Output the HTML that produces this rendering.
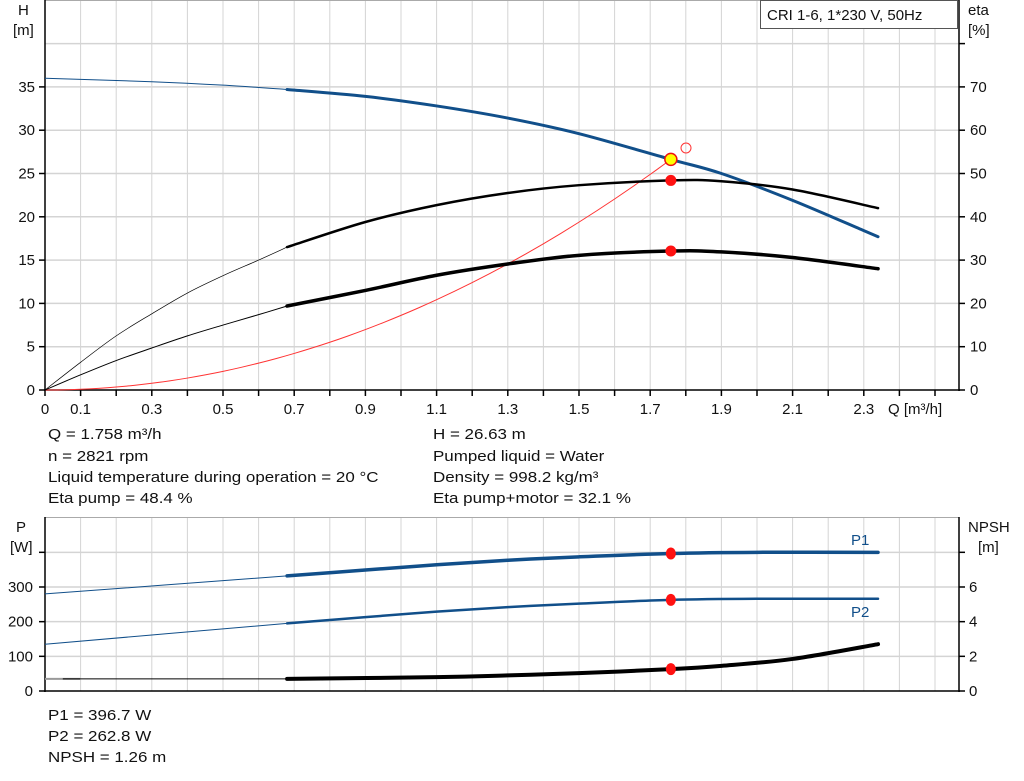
<!DOCTYPE html>
<html><head><meta charset="utf-8"><style>
body{margin:0;background:#fff;width:1024px;height:781px;overflow:hidden}
svg{display:block}
text{font-family:"Liberation Sans",sans-serif;font-size:15px;fill:#111}
</style></head><body>
<svg id="s" width="1024" height="781" xmlns="http://www.w3.org/2000/svg"></svg>
<script>
const s=document.getElementById('s');
let h='';
const X=q=>45+q*356.0;
const YH=v=>390-v*8.66, YE=v=>390-v*4.33, YP=v=>691-v*0.3467, YN=v=>691-v*17.335;
for(let i=1;i<=25;i++){const x=X(i/10);h+=`<line x1="${x}" y1="0" x2="${x}" y2="390" stroke="#d4d4d4"/>`;h+=`<line x1="${x}" y1="517" x2="${x}" y2="691" stroke="#d4d4d4"/>`;}
for(let v=5;v<=40;v+=5){h+=`<line x1="45" y1="${YH(v)}" x2="959" y2="${YH(v)}" stroke="#d4d4d4" stroke-width="1.5"/>`;}
for(let v=100;v<=400;v+=100){h+=`<line x1="45" y1="${YP(v)}" x2="959" y2="${YP(v)}" stroke="#d4d4d4" stroke-width="1.5"/>`;}
h+=`<line x1="45" y1="0.5" x2="959" y2="0.5" stroke="#aaa"/>`;
h+=`<line x1="45" y1="517.5" x2="959" y2="517.5" stroke="#aaa"/>`;
h+=`<line x1="45" y1="0" x2="45" y2="391" stroke="#000" stroke-width="1.5"/><line x1="959" y1="0" x2="959" y2="391" stroke="#000" stroke-width="1.5"/><line x1="44" y1="390" x2="960" y2="390" stroke="#000" stroke-width="1.5"/>`;
h+=`<line x1="45" y1="517" x2="45" y2="692" stroke="#000" stroke-width="1.5"/><line x1="959" y1="517" x2="959" y2="692" stroke="#000" stroke-width="1.5"/><line x1="44" y1="691" x2="960" y2="691" stroke="#000" stroke-width="1.5"/>`;
for(let i=0;i<=25;i++){const x=X(i/10);h+=`<line x1="${x}" y1="390" x2="${x}" y2="396" stroke="#000" stroke-width="1.5"/>`;}
for(let v=0;v<=35;v+=5){const y=YH(v);h+=`<line x1="39" y1="${y}" x2="45" y2="${y}" stroke="#000" stroke-width="1.5"/><text x="35" y="${y+5}" text-anchor="end" font-size="16">${v}</text>`;}
for(let v=0;v<=80;v+=10){const y=YE(v);h+=`<line x1="959" y1="${y}" x2="965" y2="${y}" stroke="#000" stroke-width="1.5"/>`;if(v<80)h+=`<text x="970" y="${y+5}" font-size="16">${v}</text>`;}
['0','0.1','0.3','0.5','0.7','0.9','1.1','1.3','1.5','1.7','1.9','2.1','2.3'].forEach(t=>{h+=`<text x="${X(+t)}" y="414" text-anchor="middle" font-size="16">${t}</text>`;});
h+=`<text x="888" y="414" font-size="16">Q [m³/h]</text>`;
h+=`<text x="18" y="15" font-size="16">H</text><text x="13" y="35" font-size="16">[m]</text><text x="968" y="15" font-size="16">eta</text><text x="968" y="35" font-size="16">[%]</text>`;
h+=`<rect x="760.5" y="0.5" width="197" height="28" fill="#fff" stroke="#555"/><text x="767" y="20" font-size="15">CRI 1-6, 1*230 V, 50Hz</text>`;
for(let v=0;v<=400;v+=100){const y=YP(v);h+=`<line x1="39" y1="${y}" x2="45" y2="${y}" stroke="#000" stroke-width="1.5"/>`;if(v<400)h+=`<text x="33" y="${y+5}" text-anchor="end" font-size="16">${v}</text>`;}
for(let v=0;v<=8;v+=2){const y=YN(v);h+=`<line x1="959" y1="${y}" x2="965" y2="${y}" stroke="#000" stroke-width="1.5"/>`;if(v<8)h+=`<text x="969" y="${y+5}" font-size="16">${v}</text>`;}
h+=`<text x="16" y="532" font-size="16">P</text><text x="10" y="552" font-size="16">[W]</text><text x="968" y="532" font-size="16">NPSH</text><text x="978" y="552" font-size="16">[m]</text>`;
function path(pts,fx,fy){let p=pts.map(a=>[fx(a[0]),fy(a[1])]);let d=`M${p[0][0]},${p[0][1]}`;for(let i=0;i<p.length-1;i++){const p0=p[Math.max(0,i-1)],p1=p[i],p2=p[i+1],p3=p[Math.min(p.length-1,i+2)];d+=` C${p1[0]+(p2[0]-p0[0])/6},${p1[1]+(p2[1]-p0[1])/6} ${p2[0]-(p3[0]-p1[0])/6},${p2[1]-(p3[1]-p1[1])/6} ${p2[0]},${p2[1]}`;}return d;}
function curve(pts,fy,col,w1,w2){const a=pts.filter(p=>p[0]<=0.68),b=pts.filter(p=>p[0]>=0.68);h+=`<path d="${path(a,X,fy)}" fill="none" stroke="${col}" stroke-width="${w1}"/><path d="${path(b,X,fy)}" fill="none" stroke="${col}" stroke-width="${w2}" stroke-linecap="round"/>`;}
const B='#114f8a';
let r=[];for(let q=0;q<=1.758001;q+=0.05)r.push([q,8.615*q*q]);r.push([1.758,26.63]);
h+=`<path d="${path(r,X,YH)}" fill="none" stroke="#f33" stroke-width="1"/>`;
curve([[0,36],[0.3,35.6],[0.5,35.2],[0.68,34.7],[0.9,33.9],[1.1,32.8],[1.3,31.4],[1.5,29.6],[1.758,26.63],[1.9,25.0],[2.1,21.9],[2.3,18.4],[2.34,17.7]],YH,B,1,3);
curve([[0,0],[0.1,6.4],[0.2,12.5],[0.3,17.6],[0.4,22.4],[0.5,26.4],[0.6,30],[0.68,33],[0.9,38.8],[1.1,42.7],[1.3,45.5],[1.5,47.3],[1.758,48.4],[1.9,48.2],[2.1,46.3],[2.34,42]],YE,'#000',0.7,2.5);
curve([[0,0],[0.1,3.5],[0.2,6.8],[0.3,9.7],[0.4,12.5],[0.5,15],[0.6,17.4],[0.68,19.4],[0.9,23],[1.1,26.5],[1.3,29.1],[1.5,31.1],[1.758,32.1],[1.9,31.9],[2.1,30.6],[2.34,28]],YE,'#000',1,3.5);
curve([[0,280],[0.68,332],[0.9,349],[1.1,364],[1.3,377],[1.5,387],[1.758,396.7],[2.0,400],[2.34,400]],YP,B,1,3.5);
curve([[0,135],[0.68,195],[0.9,213],[1.1,229],[1.3,242],[1.5,252],[1.758,262.8],[2.0,266],[2.34,266]],YP,B,1,2.5);
h+=`<path d="M45,${YN(0.7)} L80,${YN(0.7)}" stroke="#999" stroke-width="2"/>`;
curve([[0.05,0.7],[0.68,0.7]],YN,'#000',1,1);
curve([[0.68,0.7],[1.1,0.8],[1.3,0.9],[1.5,1.03],[1.758,1.26],[1.9,1.45],[2.1,1.85],[2.34,2.7]],YN,'#000',1,4);
h+=`<text x="851" y="545" font-size="15" style="fill:${B}">P1</text><text x="851" y="617" font-size="15" style="fill:${B}">P2</text>`;
const px=X(1.758);
h+=`<circle cx="686" cy="148" r="5" fill="none" stroke="#f33" stroke-width="1"/>`;
h+=`<circle cx="${px}" cy="${YE(48.4)}" r="5.5" fill="#f11"/><circle cx="${px}" cy="${YE(32.1)}" r="5.5" fill="#f11"/>`;
h+=`<circle cx="${px}" cy="${YH(26.63)}" r="6" fill="#ff0" stroke="#e11" stroke-width="1.5"/>`;
h+=`<ellipse cx="${px}" cy="${YP(396.7)}" rx="5" ry="6" fill="#f11"/><ellipse cx="${px}" cy="${YP(262.8)}" rx="5" ry="6" fill="#f11"/><ellipse cx="${px}" cy="${YN(1.26)}" rx="5" ry="6" fill="#f11"/>`;
const L=[[48,439,'Q = 1.758 m³/h'],[48,461,'n = 2821 rpm'],[48,482,'Liquid temperature during operation = 20 °C'],[48,503,'Eta pump = 48.4 %'],[433,439,'H = 26.63 m'],[433,461,'Pumped liquid = Water'],[433,482,'Density = 998.2 kg/m³'],[433,503,'Eta pump+motor = 32.1 %'],[48,720,'P1 = 396.7 W'],[48,741,'P2 = 262.8 W'],[48,762,'NPSH = 1.26 m']];
L.forEach(a=>{h+=`<text class="info" x="${a[0]}" y="${a[1]}" font-size="16">${a[2]}</text>`;});
s.innerHTML=h;
document.querySelectorAll('text.info').forEach(t=>{const w=t.getComputedTextLength();t.setAttribute('textLength',(w*1.13).toFixed(1));t.setAttribute('lengthAdjust','spacingAndGlyphs');});
</script>
</body></html>
